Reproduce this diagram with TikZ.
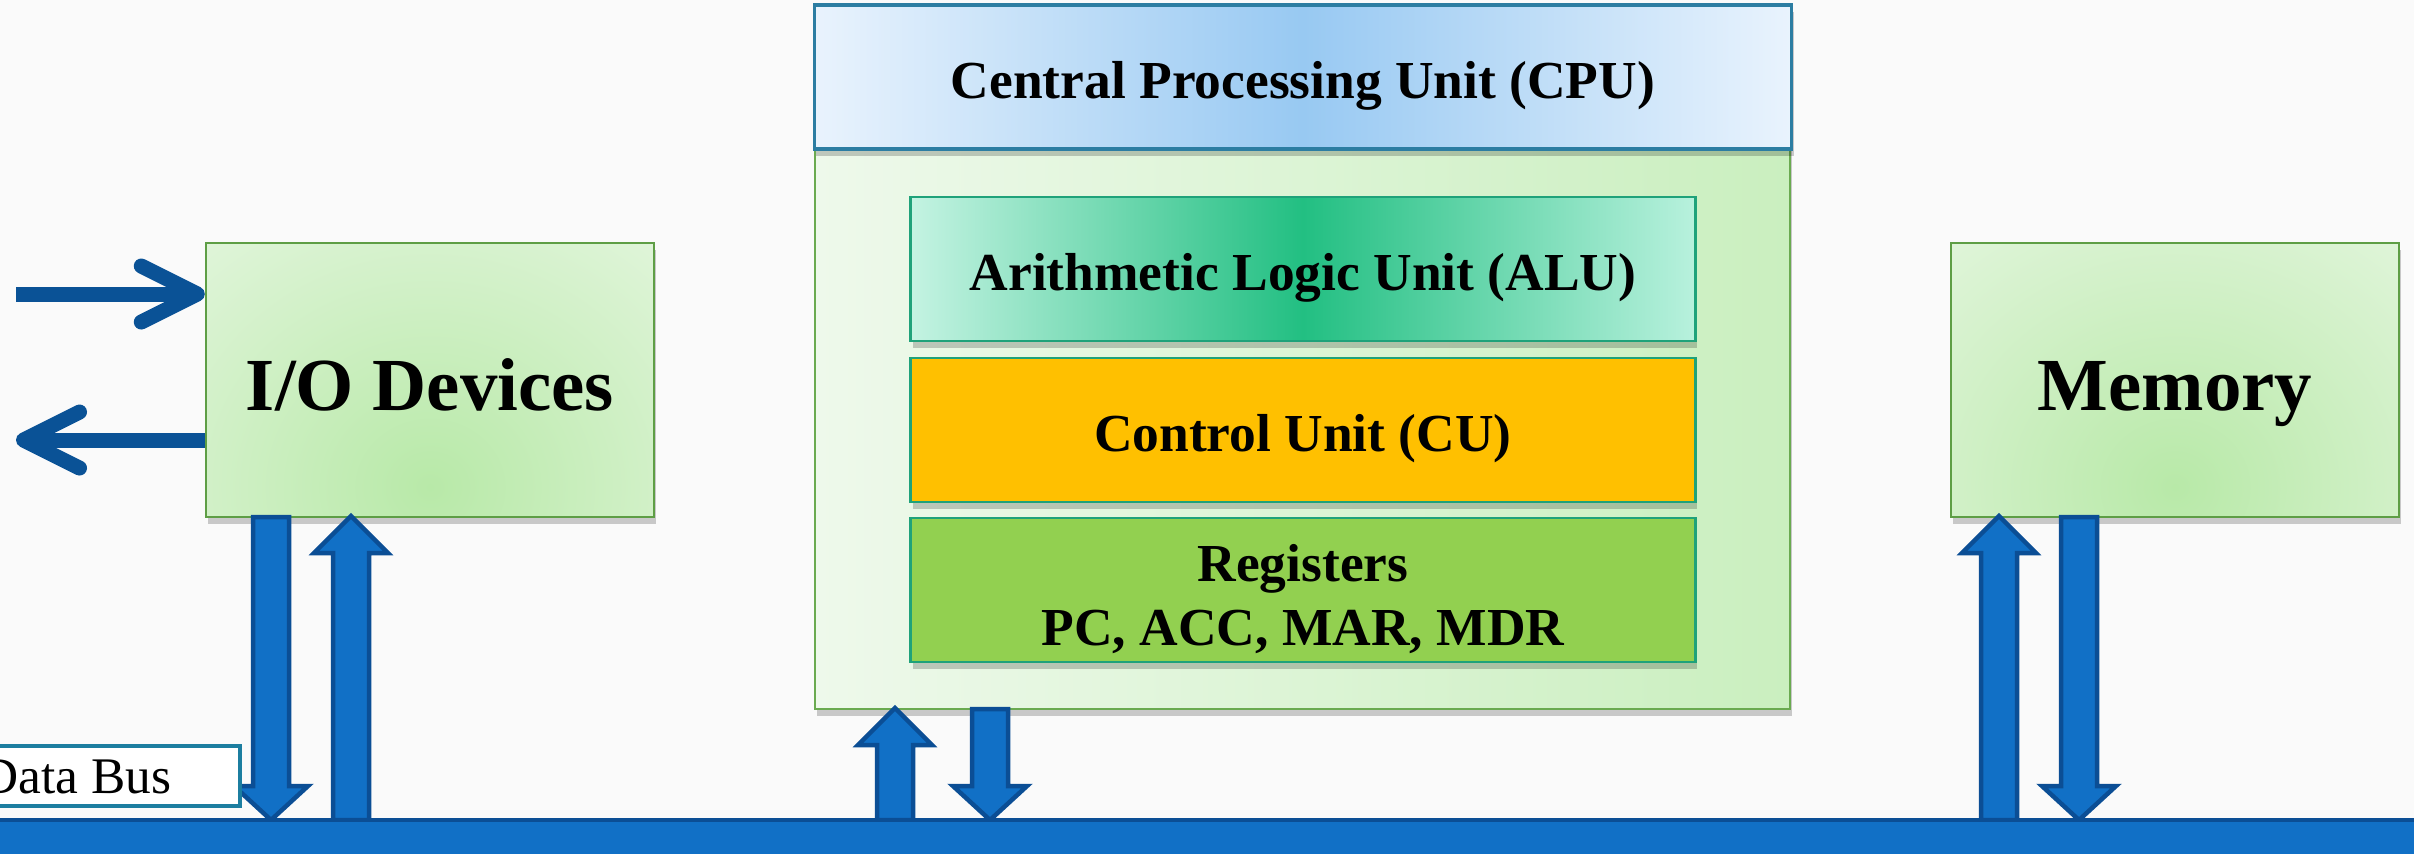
\documentclass[tikz,border=0pt]{standalone}
\usepackage{fontspec}
\setmainfont{Liberation Serif}
\usetikzlibrary{arrows.meta,shadows,calc}
\definecolor{bg}{HTML}{FAFAFA}
\definecolor{ioborder}{HTML}{5E9E45}
\definecolor{iolight}{HTML}{EEF9EB}
\definecolor{iomid}{HTML}{B8E9A8}
\definecolor{cpuborder}{HTML}{6AAA50}
\definecolor{cpul}{HTML}{EEF9EB}
\definecolor{cpur}{HTML}{CAEFBF}
\definecolor{hdborder}{HTML}{2C7DA2}
\definecolor{hdl}{HTML}{E9F3FD}
\definecolor{hdm}{HTML}{98C9F2}
\definecolor{innerborder}{HTML}{1FA27A}
\definecolor{alul}{HTML}{C4F3E2}
\definecolor{alum}{HTML}{22BF82}
\definecolor{alur}{HTML}{B8F1DD}
\definecolor{cufill}{HTML}{FFC000}
\definecolor{regfill}{HTML}{92D050}
\definecolor{arrowblue}{HTML}{0A5296}
\definecolor{blockfill}{HTML}{1170C6}
\definecolor{blockborder}{HTML}{0B4E95}
\definecolor{labelborder}{HTML}{1C7EA0}
\newcommand\myUpArrow[3]{% centre x, tip y, base y
  \filldraw[blockarrow] (#1-18,#3) -- (#1-18,#2+37) -- (#1-37,#2+37) -- (#1,#2)
    -- (#1+37,#2+37) -- (#1+18,#2+37) -- (#1+18,#3) -- cycle;}
\newcommand\myDownArrow[3]{% centre x, top y, tip y
  \filldraw[blockarrow] (#1-18,#2) -- (#1+18,#2) -- (#1+18,#3-34) -- (#1+37,#3-34)
    -- (#1,#3) -- (#1-37,#3-34) -- (#1-18,#3-34) -- cycle;}
\begin{document}
\begin{tikzpicture}[x=0.01cm,y=-0.01cm,
  shad/.style={drop shadow={shadow xshift=0.02cm, shadow yshift=-0.07cm, opacity=0.2, fill=black}},
  bigtext/.style={font=\bfseries\fontsize{21.3pt}{25pt}\selectfont, text height=0.6cm, text depth=0pt},
  boxtext/.style={font=\bfseries\fontsize{15.2pt}{18.5pt}\selectfont, text height=0.42cm, text depth=0pt},
  greenbox/.style={draw=ioborder, line width=0.6pt, fill=iolight, shad, bigtext, inner sep=0pt,
    minimum width=4.48cm, minimum height=2.74cm,
    path picture={\shade[inner color=iomid, outer color=iolight]
      ($(path picture bounding box.south)+(0,0.3cm)$) ellipse [x radius=4.8cm, y radius=4.4cm];}},
  cpubox/.style={draw=cpuborder, line width=0.6pt, left color=cpul, right color=cpur, shad,
    inner sep=0pt, minimum width=9.75cm, minimum height=7.04cm},
  headbox/.style={draw=hdborder, line width=0.9pt, left color=hdl, right color=hdl, middle color=hdm,
    shad, boxtext, inner sep=0pt, minimum width=9.77cm, minimum height=1.44cm},
  innerbox/.style={draw=innerborder, line width=0.8pt, shad, boxtext, inner sep=0pt,
    minimum width=7.84cm, minimum height=1.44cm},
  blockarrow/.style={fill=blockfill, draw=blockborder, line width=0.045cm, line join=miter},
  thinarrow/.style={draw=arrowblue, line width=0.15cm,
    -{Straight Barb[length=0.56cm, width=0.56cm, round]}},
  buslabel/.style={draw=labelborder, line width=0.04cm, fill=white, inner sep=0pt,
    minimum width=2.6cm, minimum height=0.6cm}
]
\useasboundingbox (0,0) rectangle (2414,853);
\fill[bg] (0,0) rectangle (2414,853);

% CPU
\node[cpubox] (cpu) at (1302.5,357) {};
\node[headbox] (hdr) at (1303,77) {Central Processing Unit (CPU)};
\node[innerbox, left color=alul, right color=alur, middle color=alum] (alu) at (1303,269) {Arithmetic Logic Unit (ALU)};
\node[innerbox, fill=cufill] (cu) at (1303,430) {Control Unit (CU)};
\node[innerbox, fill=regfill] (reg) at (1303,590) {};
\node[font=\bfseries\fontsize{15.2pt}{18.4pt}\selectfont, align=center, inner sep=0pt]
  (regtext) at ([yshift=-0.09cm]reg.center) {Registers\\PC, ACC, MAR, MDR};

% I/O and memory
\node[greenbox] (io) at (430,380) {I/O Devices};
\node[greenbox] (mem) at (2175,380) {Memory};

% input / output arrows
\coordinate (inS) at (16,294);
\coordinate (outE) at (16,440);
\draw[thinarrow] (inS) -- (io.west |- inS);
\draw[thinarrow] (io.west |- outE) -- (outE);

% block arrows
\myDownArrow{271}{517}{820}
\myUpArrow{351}{516}{820}
\myUpArrow{895}{708}{820}
\myDownArrow{990}{709}{820}
\myUpArrow{1999}{516}{820}
\myDownArrow{2079}{517}{820}

% bus
\filldraw[fill=blockfill, draw=blockborder, line width=0.04cm] (-20,820) rectangle (2434,880);
\node[buslabel] (lbl) at (110,776) {};
\node[anchor=base east, font=\fontsize{14.6pt}{17pt}\selectfont, inner sep=0pt] (lbltext) at (172,793) {Data Bus};
\end{tikzpicture}
\end{document}
